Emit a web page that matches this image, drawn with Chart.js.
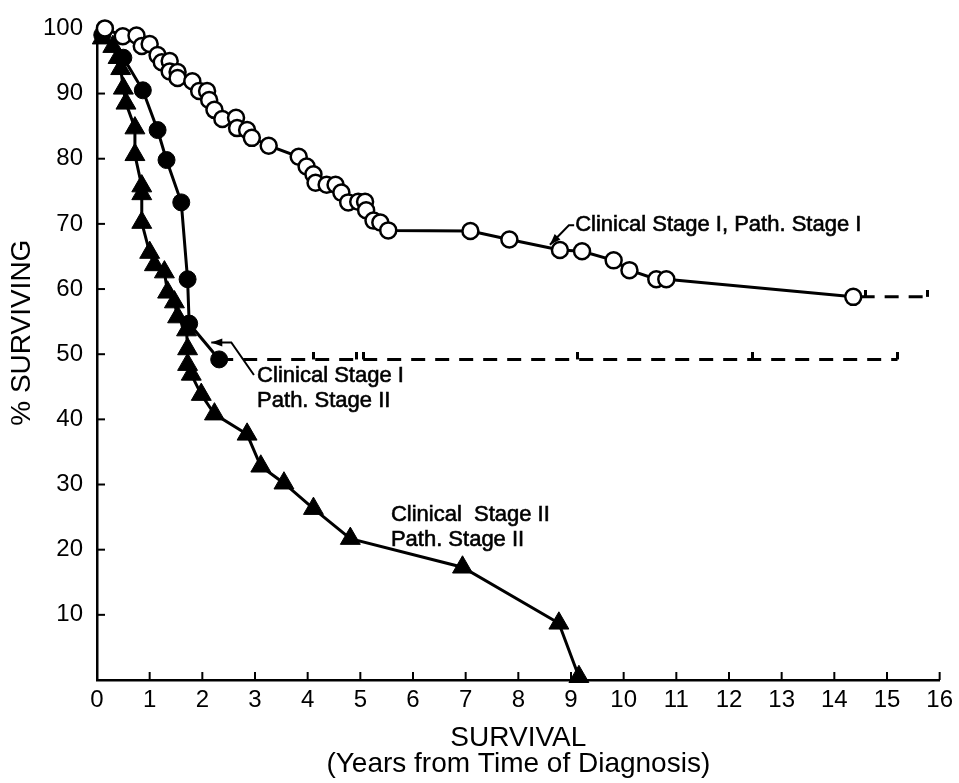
<!DOCTYPE html>
<html><head><meta charset="utf-8">
<script src="https://cdn.jsdelivr.net/npm/chart.js@4/dist/chart.umd.min.js"></script>
<style>html,body{margin:0;padding:0;background:#fff;}</style>
</head><body>
<canvas id="c" width="959" height="783"></canvas>
<script>
// ---- axis ticks ----
const xTickValues = [0,1,2,3,4,5,6,7,8,9,10,11,12,13,14,15,16];
const yTickValues = [0,10,20,30,40,50,60,70,80,90,100];

// ---- Clinical Stage I, Path. Stage I (open circles) ----
const ps1Years = [0.15,0.49,0.75,0.85,1.0,1.15,1.23,1.38,1.38,1.53,1.53,1.81,1.94,2.09,2.13,2.23,2.38,2.64,2.66,2.85,2.94,3.26,3.83,3.98,4.11,4.15,4.36,4.53,4.64,4.77,4.96,5.09,5.11,5.25,5.38,5.53,7.09,7.83,8.79,9.21,9.81,10.11,10.62,10.81,14.36];
const ps1Surv  = [100,98.8,98.9,97.3,97.6,95.9,94.8,95.0,93.4,93.3,92.4,91.9,90.4,90.4,89.0,87.5,86.1,86.3,84.7,84.4,83.2,82.0,80.3,78.8,77.6,76.3,76.0,76.0,74.8,73.3,73.4,73.4,72.1,70.5,70.2,69.0,68.9,67.6,66.0,65.8,64.4,62.9,61.5,61.5,58.8];
const ps1TailYears = [14.5,15.77];
const ps1TailSurv  = [58.8,58.8];
const ps1CensorYears = [14.6,15.77];

// ---- Clinical Stage I, Path. Stage II (filled circles) ----
const ps2Years = [0.1,0.5,0.87,1.15,1.32,1.6,1.72,1.75,2.32];
const ps2Surv  = [99.0,95.5,90.5,84.4,79.8,73.3,61.5,54.7,49.2];
const ps2TailYears = [2.32,15.2];
const ps2TailSurv  = [49.2,49.2];
const ps2CensorYears = [4.11,4.92,5.06,9.13,12.45,15.2];

// ---- Clinical Stage II, Path. Stage II (triangles) ----
const cs2Years = [0.1,0.3,0.4,0.45,0.5,0.55,0.72,0.72,0.85,0.85,0.85,1.0,1.09,1.28,1.34,1.47,1.53,1.7,1.72,1.72,1.79,1.98,2.23,2.85,3.11,3.55,4.11,4.81,6.94,8.77,9.15];
const cs2Surv  = [98.5,97.2,95.5,93.8,90.8,88.5,84.7,80.6,75.8,74.6,70.2,65.6,63.7,62.6,59.5,58.0,55.7,53.7,50.8,48.4,46.9,43.8,40.8,37.7,32.8,30.2,26.3,21.7,17.3,8.7,0.5];

const pts = (xs, ys) => xs.map((x,i)=>({x, y: ys[i]}));
const censorPts = (xs, level) => xs.map(x=>({x, y: level}));

// censor tick image: vertical mark extending upward from its point
const tick = document.createElement('canvas');
tick.width = 3; tick.height = 14;
(function(){ const t = tick.getContext('2d'); t.fillStyle = '#000'; t.fillRect(0,0,3,7); })();

const FONT = "'Liberation Sans', Arial, sans-serif";

const decor = {
  id: 'decor',
  beforeDatasetsDraw(chart){
    const {ctx, scales:{x, y}} = chart;
    ctx.save();
    ctx.strokeStyle = '#000'; ctx.lineWidth = 2;
    xTickValues.forEach(v => {
      if (v === 0) return;
      const px = x.getPixelForValue(v);
      ctx.beginPath(); ctx.moveTo(px, y.bottom); ctx.lineTo(px, y.bottom - 8); ctx.stroke();
    });
    yTickValues.forEach(v => {
      if (v === 0) return;
      const py = y.getPixelForValue(v);
      ctx.beginPath(); ctx.moveTo(x.left, py); ctx.lineTo(x.left + 8, py); ctx.stroke();
    });
    ctx.restore();
  },
  afterDraw(chart){
    const {ctx, scales:{x, y}} = chart;
    ctx.save();
    ctx.fillStyle = '#000'; ctx.strokeStyle = '#000';
    // y-axis title
    ctx.save();
    ctx.translate(22, y.getPixelForValue(53.3));
    ctx.rotate(-Math.PI/2);
    ctx.font = "28px " + FONT;
    ctx.textAlign = 'center'; ctx.textBaseline = 'middle';
    ctx.fillText('% SURVIVING', 0, 0);
    ctx.restore();
    // annotation labels
    ctx.font = "22px " + FONT;
    ctx.textAlign = 'left'; ctx.textBaseline = 'middle';
    ctx.lineWidth = 0.6;
    const labels = [
      {t:'Clinical Stage I, Path. Stage I', a:9.08, b:69.8},
      {t:'Clinical Stage I', a:3.04, b:46.6},
      {t:'Path. Stage II', a:3.04, b:42.8},
      {t:'Clinical  Stage II', a:5.58, b:25.3},
      {t:'Path. Stage II', a:5.58, b:21.5}
    ];
    labels.forEach(l => {
      const px = x.getPixelForValue(l.a), py = y.getPixelForValue(l.b);
      ctx.fillText(l.t, px, py);
      ctx.strokeText(l.t, px, py);
    });
    // leaders with arrowheads
    const leaders = [
      [[9.06,69.8],[8.96,69.8],[8.6,66.8]],
      [[2.98,46.8],[2.55,51.8],[2.17,51.8]]
    ];
    ctx.lineWidth = 2;
    leaders.forEach(seg => {
      const p = seg.map(([a,b]) => [x.getPixelForValue(a), y.getPixelForValue(b)]);
      ctx.beginPath(); ctx.moveTo(p[0][0], p[0][1]);
      for (let i=1;i<p.length;i++) ctx.lineTo(p[i][0], p[i][1]);
      ctx.stroke();
      const [x1,y1] = p[p.length-2], [x2,y2] = p[p.length-1];
      const ang = Math.atan2(y2-y1, x2-x1);
      ctx.beginPath();
      ctx.moveTo(x2, y2);
      ctx.lineTo(x2 - 11*Math.cos(ang) + 4*Math.sin(ang), y2 - 11*Math.sin(ang) - 4*Math.cos(ang));
      ctx.lineTo(x2 - 11*Math.cos(ang) - 4*Math.sin(ang), y2 - 11*Math.sin(ang) + 4*Math.cos(ang));
      ctx.closePath(); ctx.fill();
    });
    ctx.restore();
  }
};

new Chart(document.getElementById('c'), {
  type: 'line',
  data: {
    datasets: [
      { label: 'Clinical Stage I, Path. Stage I', data: pts(ps1Years, ps1Surv),
        borderColor: '#000', borderWidth: 3, pointStyle: 'circle', pointRadius: 8,
        pointBackgroundColor: '#fff', pointBorderColor: '#000', pointBorderWidth: 2.5, tension: 0, clip: false },
      { label: 'PS1 tail', data: pts(ps1TailYears, ps1TailSurv), borderColor: '#000', borderWidth: 3,
        borderDash: [14,10], pointRadius: 0, clip: false },
      { label: 'PS1 censored', data: censorPts(ps1CensorYears, ps1TailSurv[0]), showLine: false,
        pointStyle: tick, pointRadius: 7, clip: false },
      { label: 'Clinical Stage I, Path. Stage II', data: pts(ps2Years, ps2Surv),
        borderColor: '#000', borderWidth: 3, pointStyle: 'circle', pointRadius: 8.5,
        pointBackgroundColor: '#000', pointBorderColor: '#000', pointBorderWidth: 1, tension: 0, clip: false },
      { label: 'PS2 tail', data: pts(ps2TailYears, ps2TailSurv), borderColor: '#000', borderWidth: 3,
        borderDash: [14,10], pointRadius: 0, clip: false },
      { label: 'PS2 censored', data: censorPts(ps2CensorYears, ps2TailSurv[0]), showLine: false,
        pointStyle: tick, pointRadius: 7, clip: false },
      { label: 'Clinical Stage II, Path. Stage II', data: pts(cs2Years, cs2Surv),
        borderColor: '#000', borderWidth: 3, pointStyle: 'triangle', pointRadius: 11.5,
        pointBackgroundColor: '#000', pointBorderColor: '#000', pointBorderWidth: 1, tension: 0, clip: false }
    ]
  },
  options: {
    responsive: false, animation: false, devicePixelRatio: 1,
    layout: { padding: { left: 0, right: 15, top: 25, bottom: 0 } },
    plugins: { legend: { display: false }, tooltip: { enabled: false } },
    elements: { point: { hoverRadius: 0 } },
    scales: {
      x: {
        type: 'linear', min: 0, max: 16,
        afterBuildTicks: s => { s.ticks = xTickValues.map(v => ({value: v})); },
        ticks: { color: '#000', font: { family: FONT, size: 24 }, padding: 6, maxRotation: 0, autoSkip: false },
        grid: { display: false, drawTicks: false },
        border: { display: true, color: '#000', width: 2.5 },
        title: { display: true, text: ['SURVIVAL', '(Years from Time of Diagnosis)'], color: '#000',
                 font: { family: FONT, size: 28, lineHeight: 0.95 }, padding: { top: 0, bottom: 5 } },
        afterFit: s => { s.height = 103; }
      },
      y: {
        type: 'linear', min: 0, max: 100,
        afterBuildTicks: s => { s.ticks = yTickValues.map(v => ({value: v})); },
        ticks: { color: '#000', font: { family: FONT, size: 24 }, padding: 14,
                 callback: v => v === 0 ? '' : String(v) },
        grid: { display: false, drawTicks: false },
        border: { display: true, color: '#000', width: 2.5 },
        afterFit: s => { s.width = 97; }
      }
    }
  },
  plugins: [decor]
});
</script>
</body></html>
